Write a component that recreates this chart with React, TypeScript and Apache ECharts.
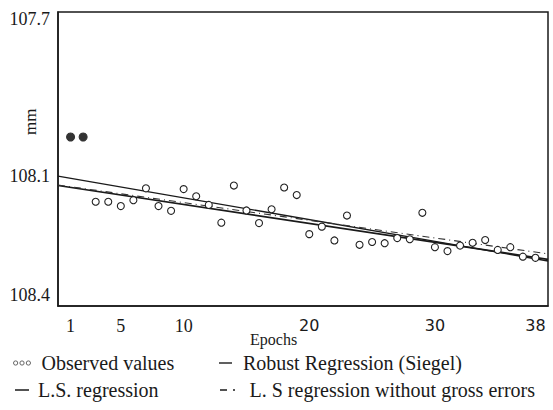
import React, { useEffect, useRef } from "react";
import * as echarts from "echarts";

const epochs = [1, 2, 3, 4, 5, 6, 7, 8, 9, 10, 11, 12, 13, 14, 15, 16, 17, 18, 19, 20, 21, 22, 23, 24, 25, 26, 27, 28, 29, 30, 31, 32, 33, 34, 35, 36, 37, 38];
const observed = [108.0, 108.0, 108.164, 108.164, 108.175, 108.16, 108.13, 108.175, 108.187, 108.132, 108.15, 108.172, 108.217, 108.123, 108.186, 108.218, 108.183, 108.128, 108.147, 108.246, 108.227, 108.262, 108.199, 108.273, 108.266, 108.269, 108.256, 108.259, 108.192, 108.279, 108.289, 108.275, 108.268, 108.261, 108.286, 108.279, 108.303, 108.306];
const grossErrorEpochs = [1, 2];

const lineEpochs = [0, 39];
const lsRegression = [108.099, 108.314];
const siegelRegression = [108.123, 108.31];
const lsWithoutGross = [108.1215, 108.296];

const yTickValues = [107.7, 108.1, 108.4];
const xTickValues = [1, 5, 10, 20, 30, 38];

const SERIF = "Times New Roman";
const SANS = "DejaVu Sans";
const INK = "#1a1a1a";

function pairs(xs: number[], ys: number[]) {
  return xs.map((x, i) => [x, ys[i]]);
}

const threeRings =
  "path://M0,3a3,3 0 1,0 6,0a3,3 0 1,0 -6,0M9,3a3,3 0 1,0 6,0a3,3 0 1,0 -6,0M18,3a3,3 0 1,0 6,0a3,3 0 1,0 -6,0";
const dashLine = "path://M0,0h14v1.5h-14z";
const dashDot = "path://M0,0h7v1.5h-7zM13,0h2v1.5h-2z";

export default function App() {
  const ref = useRef<HTMLDivElement>(null);
  useEffect(() => {
    const chart = echarts.init(ref.current!, null, { renderer: "svg" });
    const scatterData = epochs.map((e, i) => {
      const gross = grossErrorEpochs.indexOf(e) >= 0;
      return gross
        ? { value: [e, observed[i]], itemStyle: { color: "#333", borderColor: "#333" }, symbolSize: 8 }
        : { value: [e, observed[i]] };
    });
    const legendText = { fontFamily: SERIF, fontSize: 20, color: INK };
    chart.setOption({
      animation: false,
      backgroundColor: "#fff",
      color: [INK, INK, INK, INK],
      grid: {
        left: 58,
        right: 5,
        top: 12,
        bottom: 104,
        show: true,
        borderColor: INK,
        borderWidth: 1.5,
        backgroundColor: "transparent",
      },
      xAxis: {
        type: "value",
        min: 0,
        max: 39,
        axisLine: { show: true, lineStyle: { color: INK, width: 1.5 } },
        axisTick: { show: false },
        splitLine: { show: false },
        axisLabel: {
          customValues: xTickValues,
          margin: 11,
          color: INK,
          formatter: (v: number) => (v >= 20 ? "{s|" + v + "}" : "{r|" + v + "}"),
          rich: {
            r: { fontFamily: SERIF, fontSize: 18, color: INK },
            s: { fontFamily: SANS, fontSize: 16, color: INK },
          },
        },
      },
      yAxis: {
        type: "value",
        inverse: true,
        min: 107.6835,
        max: 108.428,
        axisLine: { show: true, lineStyle: { color: INK, width: 1.5 } },
        axisTick: { show: false },
        splitLine: { show: false },
        axisLabel: {
          customValues: yTickValues,
          margin: 8,
          fontFamily: SERIF,
          fontSize: 18,
          color: INK,
          formatter: (v: number) => v.toFixed(1),
        },
      },
      legend: [
        {
          data: ["Observed values"],
          left: 8,
          top: 348,
          icon: threeRings,
          itemWidth: 17,
          itemHeight: 5,
          itemStyle: { color: "#fff", borderColor: "#666", borderWidth: 1 },
          textStyle: { ...legendText, padding: [0, 0, 0, 6] },
        },
        {
          data: ["Robust Regression (Siegel)"],
          left: 214,
          top: 348,
          icon: dashLine,
          itemWidth: 13,
          itemHeight: 1.5,
          itemStyle: { color: INK, borderWidth: 0 },
          textStyle: { ...legendText, padding: [0, 0, 0, 6] },
        },
        {
          data: ["L.S. regression"],
          left: 10,
          top: 375,
          icon: dashLine,
          itemWidth: 14,
          itemHeight: 1.5,
          itemStyle: { color: INK, borderWidth: 0 },
          textStyle: { ...legendText, padding: [0, 0, 0, 4] },
        },
        {
          data: ["L. S regression without gross errors"],
          left: 215,
          top: 375,
          icon: dashDot,
          itemWidth: 16,
          itemHeight: 1.5,
          itemStyle: { color: INK, borderWidth: 0 },
          textStyle: { ...legendText, padding: [0, 0, 0, 9] },
        },
      ],
      graphic: [
        {
          type: "text",
          left: 250,
          top: 331,
          style: { text: "Epochs", fontFamily: SERIF, fontSize: 16, fill: INK },
        },
        {
          type: "text",
          x: 22,
          y: 135,
          rotation: Math.PI / 2,
          style: { text: "mm", fontFamily: SERIF, fontSize: 17, fill: INK },
        },
      ],
      series: [
        {
          name: "Observed values",
          type: "scatter",
          symbol: "circle",
          symbolSize: 7,
          z: 5,
          itemStyle: { color: "#fff", borderColor: "#222", borderWidth: 1.1, opacity: 1 },
          data: scatterData,
        },
        {
          name: "L.S. regression",
          type: "line",
          symbol: "none",
          z: 3,
          lineStyle: { color: INK, width: 1.4 },
          data: pairs(lineEpochs, lsRegression),
        },
        {
          name: "Robust Regression (Siegel)",
          type: "line",
          symbol: "none",
          z: 3,
          lineStyle: { color: INK, width: 1.6 },
          data: pairs(lineEpochs, siegelRegression),
        },
        {
          name: "L. S regression without gross errors",
          type: "line",
          symbol: "none",
          z: 3,
          lineStyle: { color: "#333", width: 1.1, type: [7, 4, 1, 4] },
          data: pairs(lineEpochs, lsWithoutGross),
        },
      ],
    });
    return () => chart.dispose();
  }, []);
  return (
    <div
      ref={ref}
      style={{ position: "fixed", left: 0, top: 0, width: 553, height: 410, background: "#fff" }}
    />
  );
}
